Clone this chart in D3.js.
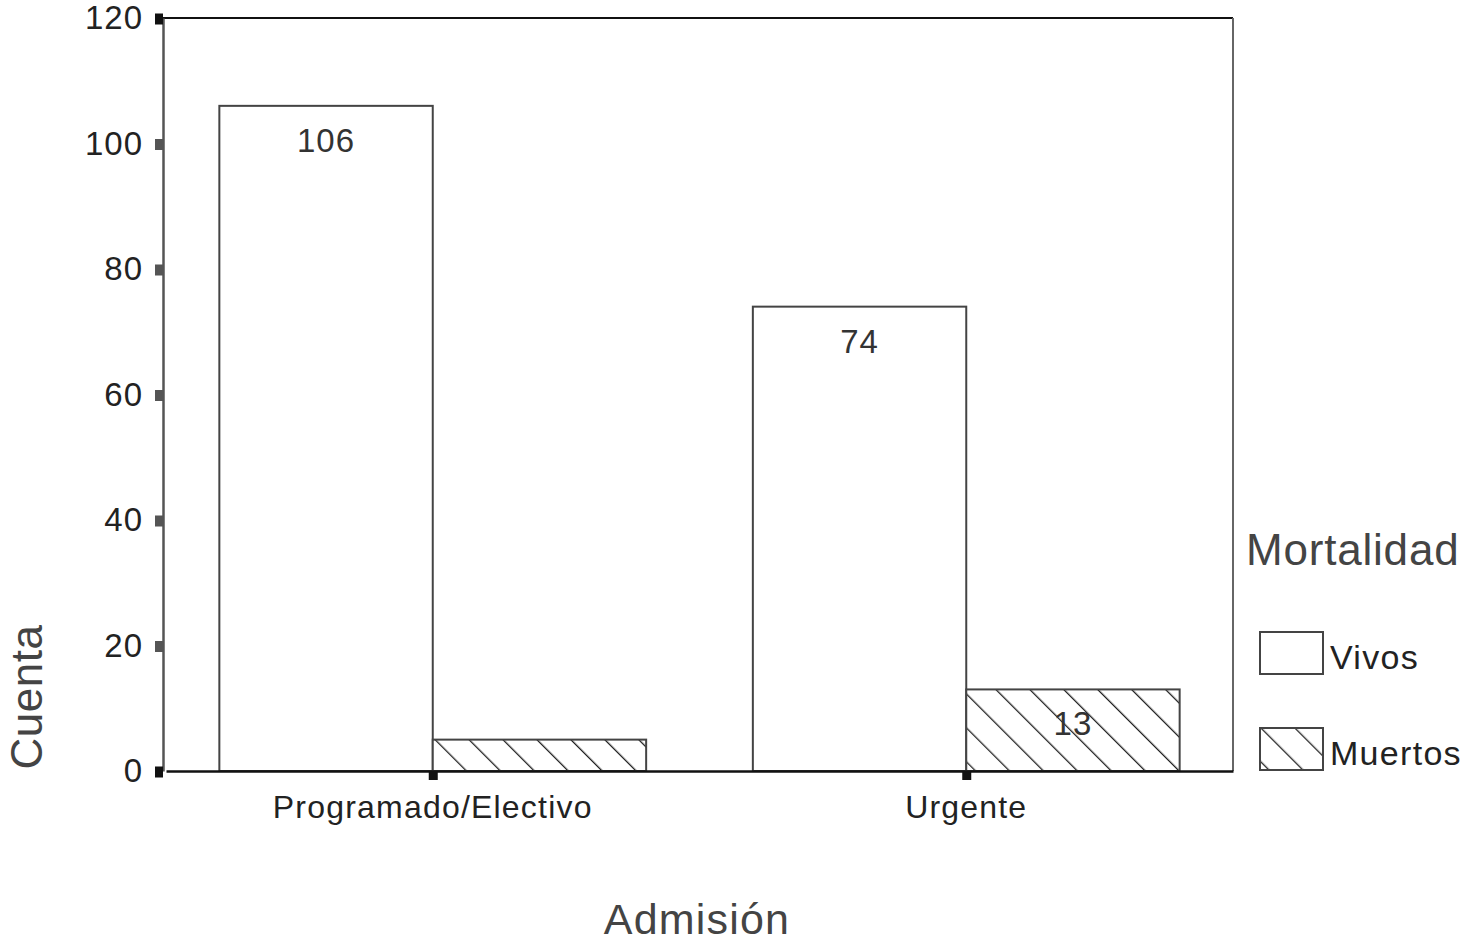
<!DOCTYPE html>
<html>
<head>
<meta charset="utf-8">
<script src="https://cdn.jsdelivr.net/npm/d3@7"></script>
<style>
  body { margin: 0; background: #fff; }
  text { font-family: "Liberation Sans", Arial, sans-serif; }
</style>
</head>
<body>
<div id="chart"></div>
<script>
var categories = ["Programado/Electivo", "Urgente"];
var series = ["Vivos", "Muertos"];
var vivos = [106, 74];
var muertos = [5, 13];
var yTicks = [0, 20, 40, 60, 80, 100, 120];

var width = 1466, height = 945;
var margin = {top: 18, right: 233, bottom: 174, left: 163};

var svg = d3.select("#chart").append("svg")
    .attr("width", width)
    .attr("height", height);

var defs = svg.append("defs");
var pat = defs.append("pattern")
    .attr("id", "hatch")
    .attr("patternUnits", "userSpaceOnUse")
    .attr("width", 24)
    .attr("height", 24)
    .attr("patternTransform", "rotate(-45)");
pat.append("rect").attr("width", 24).attr("height", 24).attr("fill", "#fff");
pat.append("line")
    .attr("x1", 0).attr("y1", 0).attr("x2", 0).attr("y2", 24)
    .attr("stroke", "#222").attr("stroke-width", 2.6);

var x0 = d3.scaleBand()
    .domain(categories)
    .range([margin.left + 3, width - margin.right])
    .paddingInner(0.2)
    .paddingOuter(0.1);

var x1 = d3.scaleBand()
    .domain(series)
    .range([0, x0.bandwidth()]);

var y = d3.scaleLinear()
    .domain([0, 120])
    .range([height - margin.bottom, margin.top]);

var data = [];
categories.forEach(function(c, i) {
  data.push({cat: c, s: "Vivos", value: vivos[i]});
  data.push({cat: c, s: "Muertos", value: muertos[i]});
});

// frame
svg.append("line")
    .attr("x1", margin.left).attr("x2", width - margin.right)
    .attr("y1", margin.top).attr("y2", margin.top)
    .attr("stroke", "#111").attr("stroke-width", 2);
svg.append("line")
    .attr("x1", width - margin.right).attr("x2", width - margin.right)
    .attr("y1", margin.top).attr("y2", y(0))
    .attr("stroke", "#666").attr("stroke-width", 2);

// bars
svg.selectAll(".bar")
  .data(data)
  .enter().append("rect")
    .attr("class", "bar")
    .attr("x", function(d) { return x0(d.cat) + x1(d.s); })
    .attr("y", function(d) { return y(d.value); })
    .attr("width", x1.bandwidth())
    .attr("height", function(d) { return y(0) - y(d.value); })
    .attr("fill", function(d) { return d.s == "Muertos" ? "url(#hatch)" : "#fff"; })
    .attr("stroke", "#444")
    .attr("stroke-width", 2);

// value labels (only where the bar is tall enough)
svg.selectAll(".val")
  .data(data.filter(function(d) { return y(0) - y(d.value) > 50; }))
  .enter().append("text")
    .attr("class", "val")
    .attr("x", function(d) { return x0(d.cat) + x1(d.s) + x1.bandwidth() / 2; })
    .attr("y", function(d) { return y(d.value) + 46; })
    .attr("text-anchor", "middle")
    .attr("font-size", 33)
    .attr("letter-spacing", 1)
    .attr("fill", "#333")
    .text(function(d) { return d.value; });

// y axis
var yAxis = svg.append("g")
    .attr("transform", "translate(" + margin.left + ",0)")
    .call(d3.axisLeft(y).tickValues(yTicks).tickSize(0).tickPadding(20));
yAxis.select(".domain").attr("stroke", "#555").attr("stroke-width", 2.5);
yAxis.selectAll(".tick text").attr("font-size", 33).attr("fill", "#222")
    .attr("letter-spacing", 1)
    .attr("font-family", "Liberation Sans, Arial, sans-serif");
yAxis.selectAll(".tick").append("rect")
    .attr("x", -8).attr("y", -5).attr("width", 8).attr("height", 11)
    .attr("fill", function(d) { return (d == 0 || d == 120) ? "#111" : "#555"; });

// x axis
var xAxis = svg.append("g")
    .attr("transform", "translate(0," + y(0) + ")")
    .call(d3.axisBottom(x0).tickSize(0).tickPadding(24));
xAxis.select(".domain").attr("stroke", "#111").attr("stroke-width", 2.5);
xAxis.selectAll(".tick text").attr("font-size", 32).attr("fill", "#222")
    .attr("letter-spacing", 1.2)
    .attr("font-family", "Liberation Sans, Arial, sans-serif");
xAxis.selectAll(".tick").append("rect")
    .attr("x", -4).attr("y", 0).attr("width", 9).attr("height", 9)
    .attr("fill", "#111");

// axis titles
svg.append("text")
    .attr("transform", "translate(42,697) rotate(-90)")
    .attr("text-anchor", "middle")
    .attr("font-size", 44)
    .attr("letter-spacing", 0.5)
    .attr("fill", "#444")
    .text("Cuenta");

svg.append("text")
    .attr("x", 697)
    .attr("y", 934)
    .attr("text-anchor", "middle")
    .attr("font-size", 43)
    .attr("letter-spacing", 1.2)
    .attr("fill", "#444")
    .text("Admisión");

// legend
svg.append("text")
    .attr("x", 1246)
    .attr("y", 565)
    .attr("font-size", 44)
    .attr("letter-spacing", 0.8)
    .attr("fill", "#444")
    .text("Mortalidad");

var legend = svg.selectAll(".legend")
  .data(series)
  .enter().append("g")
    .attr("class", "legend")
    .attr("transform", function(d, i) { return "translate(1260," + (632 + i * 96) + ")"; });

legend.append("rect")
    .attr("width", 63)
    .attr("height", 42)
    .attr("fill", function(d) { return d == "Muertos" ? "url(#hatch)" : "#fff"; })
    .attr("stroke", "#444")
    .attr("stroke-width", 2);

legend.append("text")
    .attr("x", 70)
    .attr("y", 37)
    .attr("font-size", 34)
    .attr("letter-spacing", 1.3)
    .attr("fill", "#222")
    .text(function(d) { return d; });
</script>
</body>
</html>
